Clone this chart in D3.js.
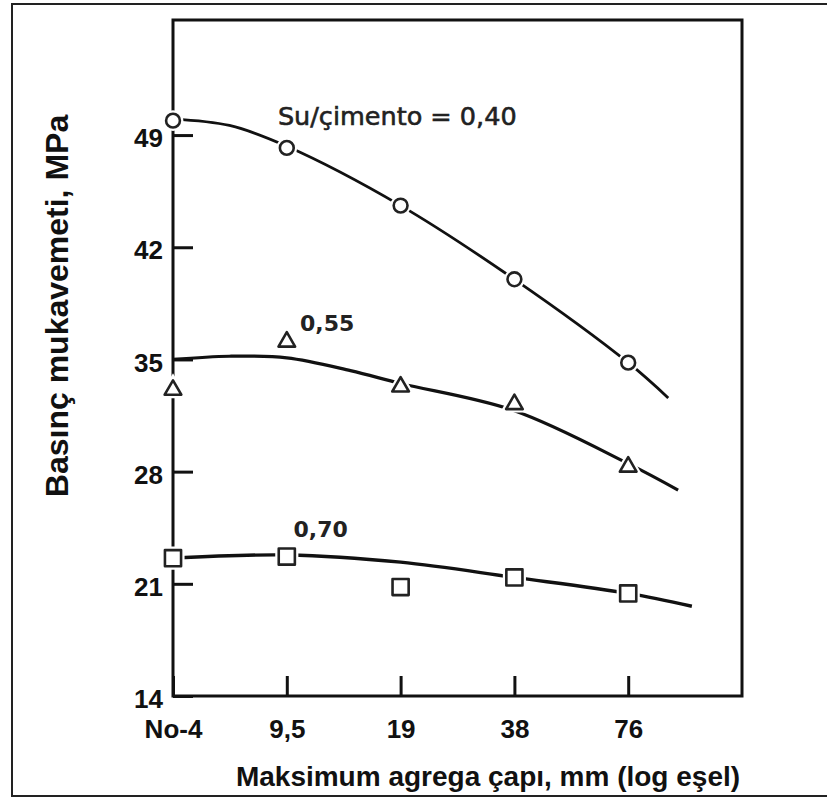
<!DOCTYPE html>
<html>
<head>
<meta charset="utf-8">
<script src="https://cdn.jsdelivr.net/npm/d3@7/dist/d3.min.js"></script>
<style>
  html, body { margin: 0; padding: 0; background: #fff; }
  svg { display: block; }
</style>
</head>
<body>
<svg id="chart" width="827" height="798"></svg>
<script>
// ---- data ----
const aggregateSizes = [4.75, 9.5, 19, 38, 76];          // mm, log axis
const sizeLabels = ["No-4", "9,5", "19", "38", "76"];
const strengthTicks = [14, 21, 28, 35, 42, 49];          // MPa

const seriesNames = ["Su/çimento = 0,40", "0,55", "0,70"];
const strength040 = [49.9, 48.2, 44.6, 40.0, 34.8];
const strength055 = [33.1, 36.1, 33.3, 32.2, 28.3];
const strength070 = [22.6, 22.7, 20.8, 21.4, 20.4];

// fitted curves as drawn in the figure: [size mm, MPa]
const curve040 = [[4.75, 50.0], [6.7, 49.6], [9.5, 48.3], [19, 44.6], [38, 40.0], [76, 34.8], [97, 32.6]];
const curve055 = [[4.75, 35.0], [6.7, 35.2], [9.5, 35.1], [14, 34.3], [19, 33.5], [38, 31.8], [76, 28.5], [103, 26.85]];
const curve070 = [[4.75, 22.6], [9.5, 22.8], [19, 22.35], [38, 21.4], [76, 20.4], [112, 19.6]];

// label anchors in data space: [size mm, MPa]
const labelAnchors = [[9.0, 49.6], [10.3, 36.8], [9.9, 23.9]];

const xTitle = "Maksimum agrega çapı, mm (log eşel)";
const yTitle = "Basınç mukavemeti, MPa";

// ---- layout ----
const svg = d3.select("#chart");
const plotL = 173, plotR = 742, plotT = 20, plotB = 696;

const x = d3.scaleLog().base(2).domain([4.75, 152]).range([plotL, plotR]);
const y = d3.scaleLinear().domain([14, 56.18]).range([plotB, plotT]);

const boldFont = "'Liberation Sans', Arial, Helvetica, sans-serif";

// outer frame
svg.append("rect")
  .attr("x", 12).attr("y", 4).attr("width", 840).attr("height", 792)
  .attr("fill", "none").attr("stroke", "#222").attr("stroke-width", 2);

// plot box
svg.append("rect")
  .attr("x", plotL).attr("y", plotT).attr("width", plotR - plotL).attr("height", plotB - plotT)
  .attr("fill", "none").attr("stroke", "#111").attr("stroke-width", 3);

// y axis
const yAxis = d3.axisLeft(y).tickValues(strengthTicks).tickSize(-20).tickSizeOuter(0).tickPadding(10)
  .tickFormat(d3.format("d"));
const gy = svg.append("g").attr("transform", `translate(${plotL},0)`).call(yAxis);
gy.select(".domain").remove();
gy.selectAll(".tick line").attr("stroke", "#111").attr("stroke-width", 3);
gy.selectAll(".tick text")
  .attr("fill", "#111").attr("font-family", boldFont).attr("font-weight", "bold")
  .attr("font-size", 26).attr("dy", "0.45em");

// x axis
const xAxis = d3.axisBottom(x).tickValues(aggregateSizes).tickSize(-20).tickSizeOuter(0).tickPadding(24)
  .tickFormat((d, i) => sizeLabels[i]);
const gx = svg.append("g").attr("transform", `translate(0,${plotB})`).call(xAxis);
gx.select(".domain").remove();
gx.selectAll(".tick line").attr("stroke", "#111").attr("stroke-width", 3);
gx.selectAll(".tick text")
  .attr("fill", "#111").attr("font-family", boldFont).attr("font-weight", "bold")
  .attr("font-size", 26);

// axis titles
svg.append("text")
  .attr("x", 488).attr("y", 786).attr("text-anchor", "middle")
  .attr("font-family", boldFont).attr("font-weight", "bold").attr("font-size", 28).attr("fill", "#111")
  .text(xTitle);
svg.append("text")
  .attr("transform", "translate(68,306) rotate(-90)").attr("text-anchor", "middle")
  .attr("font-family", boldFont).attr("font-weight", "bold").attr("font-size", 32).attr("fill", "#111")
  .text(yTitle);

// curves
const line = d3.line().x(d => x(d[0])).y(d => y(d[1])).curve(d3.curveCatmullRom.alpha(0.5));
[[curve040, 2.8], [curve055, 3.2], [curve070, 3.4]].forEach(([c, w]) => {
  svg.append("path").attr("d", line(c)).attr("fill", "none").attr("stroke", "#111")
    .attr("stroke-width", w).attr("stroke-linecap", "butt");
});

// markers
const pts = (vals) => vals.map((v, i) => [aggregateSizes[i], v]);
const symbols = [
  { data: pts(strength040), type: d3.symbolCircle, size: 150 },
  { data: pts(strength055), type: d3.symbolTriangle, size: 120 },
  { data: pts(strength070), type: d3.symbolSquare, size: 260 }
];
symbols.forEach(s => {
  const gen = d3.symbol().type(s.type).size(s.size);
  const g = svg.append("g");
  g.selectAll("path.halo").data(s.data).join("path").attr("class", "halo")
    .attr("transform", d => `translate(${x(d[0])},${y(d[1])})`)
    .attr("d", gen).attr("fill", "#fff").attr("stroke", "#fff").attr("stroke-width", 7);
  g.selectAll("path.mk").data(s.data).join("path").attr("class", "mk")
    .attr("transform", d => `translate(${x(d[0])},${y(d[1])})`)
    .attr("d", gen).attr("fill", "#fff").attr("stroke", "#222").attr("stroke-width", 2.6)
    .attr("stroke-linejoin", "round");
});

// series labels
svg.append("text")
  .attr("x", x(labelAnchors[0][0])).attr("y", y(labelAnchors[0][1]))
  .attr("font-family", "'DejaVu Sans', sans-serif").attr("font-size", 25.5).attr("fill", "#222")
  .attr("stroke", "#222").attr("stroke-width", 0.6)
  .text(seriesNames[0]);
[1, 2].forEach(i => {
  svg.append("text")
    .attr("x", x(labelAnchors[i][0])).attr("y", y(labelAnchors[i][1]))
    .attr("font-family", "'DejaVu Sans', sans-serif").attr("font-weight", "bold")
    .attr("font-size", 22).attr("fill", "#222")
    .text(seriesNames[i]);
});
</script>
</body>
</html>
